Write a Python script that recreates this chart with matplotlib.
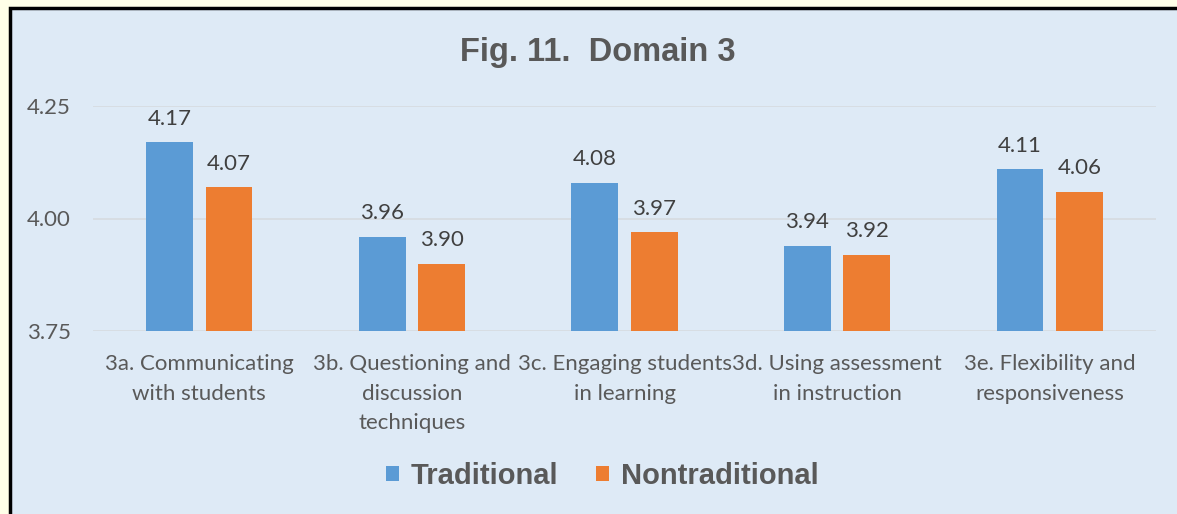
import matplotlib.pyplot as plt
import numpy as np
from matplotlib.patches import Rectangle

# Datos de la grafica
categorias = ['3a. Communicating\nwith students',
              '3b. Questioning and\ndiscussion\ntechniques',
              '3c. Engaging students\nin learning',
              '3d. Using assessment\nin instruction',
              '3e. Flexibility and\nresponsiveness']
tradicional = [4.17, 3.96, 4.08, 3.94, 4.11]
no_tradicional = [4.07, 3.90, 3.97, 3.92, 4.06]
ticks_y = [3.75, 4.00, 4.25]

azul = '#5B9BD5'
naranja = '#ED7D31'
gris = '#595959'
fondo = '#DEEAF6'

plt.rcParams['font.family'] = ['Lato', 'DejaVu Sans']

fig = plt.figure(figsize=(11.77, 5.14), dpi=100, facecolor='#FFFFE8')
# marco del grafico
fig.patches.append(Rectangle((10/1177, -0.05), 1.1, (514-8)/514 + 0.05,
                             transform=fig.transFigure, facecolor=fondo,
                             edgecolor='black', linewidth=2.5, zorder=-5))

ax = fig.add_axes([93/1177, 1-331/514, (1156-93)/1177, (331-106)/514])
ax.set_facecolor('none')
ax.set_zorder(2)

x = np.arange(len(categorias))
ancho = 0.22
b1 = ax.bar(x - 0.14, tradicional, ancho, color=azul, label='Traditional', zorder=3)
b2 = ax.bar(x + 0.14, no_tradicional, ancho, color=naranja, label='Nontraditional', zorder=3)

for barras in (b1, b2):
    for b in barras:
        ax.annotate(f'{b.get_height():.2f}', (b.get_x() + b.get_width()/2, b.get_height()),
                    xytext=(0, 9.5), textcoords='offset points', ha='center', va='bottom',
                    fontsize=16, color='#404040')

ax.set_ylim(3.75, 4.25)
ax.set_xlim(-0.5, len(categorias) - 0.5)
ax.set_yticks(ticks_y)
ax.set_yticklabels([f'{t:.2f}' for t in ticks_y], fontsize=16, color=gris)
ax.set_xticks(x)
ax.set_xticklabels(categorias, fontsize=16, color=gris, linespacing=1.6)
ax.tick_params(length=0)
ax.tick_params(axis='y', pad=16)
ax.tick_params(axis='x', pad=16.5)
ax.grid(axis='y', color='#D6DBE0', linewidth=1.2, zorder=0)
for s in ax.spines.values():
    s.set_visible(False)

fig.text(598/1177, 1-52/514, 'Fig. 11.  Domain 3', ha='center', va='center',
         fontsize=23.5, fontweight='bold', color=gris, family='Liberation Sans')

leg = fig.legend(loc='center', bbox_to_anchor=(602/1177, 1-476/514), ncol=2,
                 frameon=False, handlelength=0.45, handleheight=0.45,
                 handletextpad=0.4, columnspacing=1.3,
                 prop={'family': 'Liberation Sans', 'weight': 'bold', 'size': 21})
for t in leg.get_texts():
    t.set_color(gris)

fig.savefig('out.png', dpi=100, facecolor=fig.get_facecolor())
